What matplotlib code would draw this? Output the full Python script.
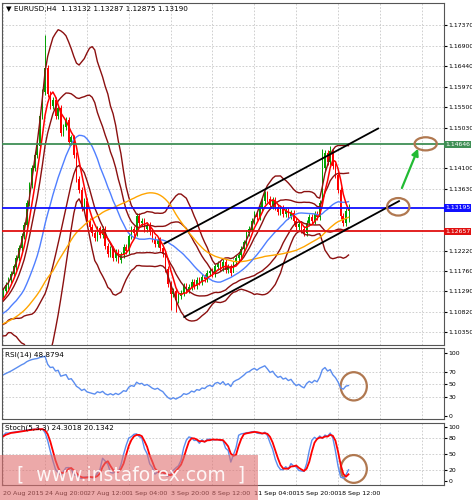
import numpy as np
import pandas as pd
import matplotlib.pyplot as plt
from matplotlib.patches import Ellipse, Rectangle

# H4 closes, a warm-up stretch before the visible window, then the visible bars
pre_closes = [1.1000, 1.0985, 1.1010, 1.1030, 1.1020, 1.0995, 1.0970, 1.0985, 1.1005, 1.1040,
              1.1060, 1.1045, 1.1020, 1.1050, 1.1080, 1.1065, 1.1090, 1.1075, 1.1055, 1.1070,
              1.1085, 1.1100, 1.1090, 1.1075, 1.1060, 1.1080, 1.1095, 1.1110, 1.1100, 1.1120]
closes = [1.1130, 1.1142, 1.1155, 1.1168, 1.1185, 1.1205, 1.1228, 1.1255, 1.1280, 1.1330,
          1.1372, 1.1410, 1.1440, 1.1462, 1.1530, 1.1585, 1.1640, 1.1580, 1.1552, 1.1565,
          1.1530, 1.1548, 1.1490, 1.1505, 1.1520, 1.1470, 1.1480, 1.1440, 1.1385, 1.1360,
          1.1320, 1.1335, 1.1290, 1.1275, 1.1262, 1.1250, 1.1272, 1.1258, 1.1270, 1.1232,
          1.1215, 1.1225, 1.1205, 1.1218, 1.1200, 1.1212, 1.1230, 1.1222, 1.1255, 1.1270,
          1.1262, 1.1300, 1.1285, 1.1290, 1.1272, 1.1280, 1.1265, 1.1248, 1.1238, 1.1245,
          1.1228, 1.1215, 1.1180, 1.1145, 1.1122, 1.1130, 1.1110, 1.1118, 1.1125, 1.1140,
          1.1132, 1.1138, 1.1150, 1.1142, 1.1155, 1.1150, 1.1162, 1.1158, 1.1170, 1.1175,
          1.1168, 1.1185, 1.1190, 1.1182, 1.1195, 1.1178, 1.1185, 1.1170, 1.1195, 1.1205,
          1.1212, 1.1225, 1.1240, 1.1262, 1.1270, 1.1290, 1.1305, 1.1298, 1.1320, 1.1335,
          1.1352, 1.1340, 1.1325, 1.1338, 1.1322, 1.1310, 1.1318, 1.1305, 1.1312, 1.1300,
          1.1308, 1.1290, 1.1275, 1.1282, 1.1270, 1.1262, 1.1285, 1.1298, 1.1290, 1.1305,
          1.1298, 1.1330, 1.1410, 1.1445, 1.1425, 1.1448, 1.1415, 1.1395, 1.1360, 1.1300,
          1.1285, 1.1313, 1.1319]
wick_high = {16: 1.1714, 122: 1.1455, 125: 1.1462, 132: 1.13287}
wick_low = {64: 1.1085, 66: 1.1082, 88: 1.1205, 132: 1.12875}

date_labels = ["20 Aug 2015", "24 Aug 20:00", "27 Aug 12:00", "1 Sep 04:00", "3 Sep 20:00",
               "8 Sep 12:00", "11 Sep 04:00", "15 Sep 20:00", "18 Sep 12:00"]
price_ticks = [1.17370, 1.16900, 1.16440, 1.15970, 1.15500, 1.15030, 1.14100,
               1.13630, 1.12220, 1.11760, 1.11290, 1.10820, 1.10350]
levels = [(1.14646, '#3f8f55'), (1.13195, '#1010ff'), (1.12657, '#e01010')]
channel_up = ([61.6, 143.3], [1.1238, 1.1501])
channel_dn = ([69.2, 151.3], [1.1070, 1.1335])
arrow = ([152, 159], [1.1359, 1.1461])

n_pre = len(pre_closes)
allc = pd.Series(pre_closes + closes)
opens = allc.shift(1).fillna(allc.iloc[0])
highs = np.maximum(opens, allc) + 0.0007
lows = np.minimum(opens, allc) - 0.0007
for k, v in wick_high.items():
    highs[n_pre + k] = v
for k, v in wick_low.items():
    lows[n_pre + k] = v
opens[n_pre + 132] = 1.13132
x = np.arange(len(allc)) - n_pre

sma5 = allc.rolling(5, min_periods=1).mean()
sma21 = allc.rolling(21, min_periods=1).mean()
sma50 = allc.rolling(50, min_periods=1).mean()
mid = allc.rolling(20, min_periods=1).mean()
sd = allc.rolling(20, min_periods=2).std().fillna(0)

delta = allc.diff().fillna(0)
up = delta.clip(lower=0).ewm(alpha=1 / 14, adjust=False).mean()
dn = (-delta.clip(upper=0)).ewm(alpha=1 / 14, adjust=False).mean()
rsi = 100 - 100 / (1 + up / dn.replace(0, 1e-9))
hh = pd.Series(highs).rolling(5, min_periods=1).max()
ll = pd.Series(lows).rolling(5, min_periods=1).min()
k_line = (100 * (allc - ll) / (hh - ll)).rolling(3, min_periods=1).mean()
d_line = k_line.rolling(3, min_periods=1).mean()

vis = x >= 0
fig = plt.figure(figsize=(4.72, 5.0), dpi=100)
W = 444 / 472
ax = fig.add_axes([0.004, 0.31, W - 0.004, 0.684])
ax_r = fig.add_axes([0.004, 0.162, W - 0.004, 0.142])
ax_s = fig.add_axes([0.004, 0.03, W - 0.004, 0.124])
xl = (-0.5, 168.5)
vx = np.arange(0, 169, 16)

for a in (ax, ax_r, ax_s):
    a.set_xlim(*xl)
    a.yaxis.tick_right()
    a.tick_params(axis='y', labelsize=4.4, length=2, pad=1)
    a.set_xticks([])
    for t in vx:
        a.axvline(t, color='#c8c8c8', ls=(0, (2, 2)), lw=0.6, zorder=0)
    for s in a.spines.values():
        s.set_color('#555555')

# main price panel
ax.set_ylim(1.1006, 1.1788)
ax.set_yticks(price_ticks)
ax.set_yticklabels([f"{t:.5f}" for t in price_ticks])
for t in price_ticks:
    ax.axhline(t, color='#c8c8c8', ls=(0, (2, 2)), lw=0.6, zorder=0)
xs, o, c, h, l = x[vis], opens[vis].values, allc[vis].values, highs[vis], lows[vis]
cols = np.where(c >= o, '#00a000', '#ff0000')
ax.vlines(xs, l, h, colors=cols, lw=0.7, zorder=2)
ax.bar(xs, np.abs(c - o) + 0.00005, bottom=np.minimum(o, c), width=0.6, color=cols, zorder=2)
bb = '#8b1010'
for m in (2.0, 1.0):
    ax.plot(x[vis], (mid + m * sd)[vis], color=bb, lw=1.0, zorder=3)
    ax.plot(x[vis], (mid - m * sd)[vis], color=bb, lw=1.0, zorder=3)
ax.plot(x[vis], sma50[vis], color='#ffa500', lw=1.0, zorder=3)
ax.plot(x[vis], sma21[vis], color='#4f7fff', lw=1.0, zorder=3)
ax.plot(x[vis], sma5[vis], color='#ff0000', lw=1.1, zorder=4)
ax.plot(*channel_up, color='black', lw=1.3, zorder=5)
ax.plot(*channel_dn, color='black', lw=1.3, zorder=5)
ax.annotate('', xy=(arrow[0][1], arrow[1][1]), xytext=(arrow[0][0], arrow[1][0]),
            arrowprops=dict(arrowstyle='-|>', color='#22bb33', lw=1.6), zorder=6)
ax.add_patch(Ellipse((161.5, 1.1466), 8.5, 0.0030, fill=False, ec='#b07850', lw=1.6, zorder=6))
ax.add_patch(Ellipse((151, 1.1322), 8.5, 0.0040, fill=False, ec='#b07850', lw=1.6, zorder=6))
for val, col in levels:
    ax.axhline(val, color=col, lw=1.3, zorder=4)
    ax.text(1.002, val, f"{val:.5f}", transform=ax.get_yaxis_transform(), va='center',
            ha='left', fontsize=4.4, color='white',
            bbox=dict(boxstyle='square,pad=0.2', fc=col, ec='none'), clip_on=False)
ax.text(0.01, 0.99, "\u25bc EURUSD,H4  1.13132 1.13287 1.12875 1.13190", transform=ax.transAxes,
        fontsize=5.2, va='top', ha='left')

# RSI panel
ax_r.set_ylim(-5, 108)
ax_r.set_yticks([0, 30, 50, 70, 100])
for t in (30, 50, 70):
    ax_r.axhline(t, color='#c8c8c8', ls=(0, (2, 2)), lw=0.6, zorder=0)
ax_r.plot(x[vis], rsi[vis], color='#5b8def', lw=1.0)
ax_r.add_patch(Ellipse((134, 47), 10, 45, fill=False, ec='#b07850', lw=1.6))
ax_r.text(0.008, 0.95, "RSI(14) 48.8794", transform=ax_r.transAxes, fontsize=5.2, va='top')

# Stochastic panel
ax_s.set_ylim(-8, 108)
ax_s.set_yticks([0, 20, 50, 80, 100])
for t in (20, 50, 80):
    ax_s.axhline(t, color='#c8c8c8', ls=(0, (2, 2)), lw=0.6, zorder=0)
ax_s.plot(x[vis], k_line[vis], color='#5b8def', lw=1.0)
ax_s.plot(x[vis], d_line[vis], color='#ff0000', lw=1.3)
ax_s.add_patch(Ellipse((134, 22), 10, 52, fill=False, ec='#b07850', lw=1.6))
ax_s.text(0.008, 0.97, "Stoch(5,3,3) 24.3018 20.1342", transform=ax_s.transAxes, fontsize=5.2, va='top')

# time labels and watermark
for i, lab in enumerate(date_labels):
    fig.text(0.004 + (vx[i] + 0.5) / 169 * (W - 0.004), 0.014, lab, fontsize=4.6, ha='left', va='center')
fig.patches.append(Rectangle((0.0, 0.0), 258 / 472, 0.09, transform=fig.transFigure,
                             fc='#e07070', alpha=0.6, ec='none', zorder=10))
fig.text(0.035, 0.05, "[  www.instaforex.com  ]", fontsize=13.5, color='white', alpha=0.9,
         va='center', ha='left', zorder=11)

fig.savefig('out.png', dpi=100)
